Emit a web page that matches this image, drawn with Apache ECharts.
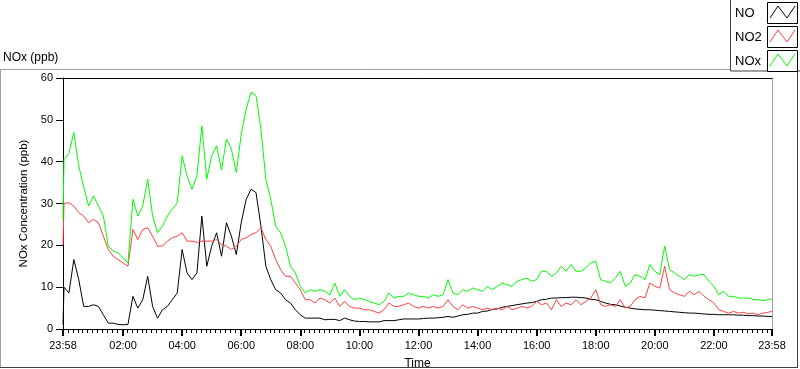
<!DOCTYPE html>
<html><head><meta charset="utf-8">
<script src="https://cdn.jsdelivr.net/npm/echarts@6/dist/echarts.min.js"></script>
<style>html,body{margin:0;padding:0;background:#fff}#c{width:800px;height:369px}</style>
</head><body><div id="c"></div>
<script>
// ---- data (minutes after midnight; first sample 23:58 previous day = -2) ----
const seriesNames = ['NO', 'NO2', 'NOx'];
const seriesColors = ['#000000', '#ff4040', '#00ff00'];
const firstTime = -2, lastTime = 1438, sampleStart = 0, sampleStep = 10, sampleEnd = 1430;

const noValues = [1,
  10, 8.6, 16.6, 11.8, 5.4, 5.4, 5.8, 5.4, 3.4, 1.4,
  1.4, 1.1, 1.0, 1.1, 7.8, 5.0, 7.0, 12.6, 5.4, 2.6,
  4.6, 5.4, 7.0, 8.6, 19, 13.4, 11.8, 13.4, 27, 15,
  19.8, 23, 17.4, 25.4, 22.2, 17.8, 25.4, 31, 33.4, 32.6,
  24.6, 15, 11.8, 9.4, 8.6, 7, 6.2, 4.6, 3.4, 2.6,
  2.6, 2.6, 2.6, 2.2, 2.3, 2.3, 2.0, 2.6, 2.2, 1.9,
  1.8, 1.8, 1.7, 1.7, 1.7, 2.0, 2.0, 2.0, 2.2, 2.4,
  2.4, 2.4, 2.4, 2.5, 2.6, 2.6, 2.7, 2.8, 3.0, 2.8,
  3.1, 3.4, 3.5, 3.8, 3.8, 4.2, 4.3, 4.7, 4.8, 5.2,
  5.4, 5.6, 5.8, 6.0, 6.2, 6.3, 6.6, 7.0, 7.1,
  7.4, 7.4, 7.5, 7.5, 7.6, 7.6, 7.5, 7.4, 7.1, 7.0,
  6.6, 6.2, 5.9, 5.8, 5.5, 5.2, 5.0, 4.8, 4.7, 4.6,
  4.6, 4.5, 4.4, 4.3, 4.2, 4.1, 4.0, 3.9, 3.8, 3.8,
  3.7, 3.6, 3.5, 3.5, 3.4, 3.4, 3.4, 3.4, 3.3, 3.3,
  3.2, 3.2, 3.1, 3.1, 3.0,
  3.0];

const no2Values = [20,
  30, 30.2, 29.4, 27.8, 27, 25.4, 26.2, 25.4, 22.2, 19,
  17.4, 16.6, 15.8, 15, 23.8, 21.4, 23.8, 24.2, 22.2, 19.8,
  19.8, 21, 21.8, 22.2, 23, 21, 21, 20.7, 21, 21,
  21, 21.4, 20.2, 19.8, 19, 19.8, 21.4, 21.8, 22.6, 23,
  24.2, 21.4, 19.8, 16.6, 14.2, 12.6, 12.6, 11, 9.4, 7,
  7, 6.2, 7.4, 7, 6.2, 7.4, 5.4, 6.6, 5.4, 5,
  5, 4.6, 4.6, 4.2, 3.8, 4.6, 6.2, 5.4, 5.4, 5.8,
  6.2, 5.4, 5, 5.4, 5, 5.4, 5, 5.4, 7, 5.4,
  4.6, 5.8, 5, 5.4, 5, 4.6, 5, 4.6, 5, 4.6,
  5.4, 4.6, 5, 5.4, 5, 5.4, 6.6, 5.8, 6.2,
  4.6, 7, 5.4, 6.2, 5.8, 7, 5.8, 6.6, 7.4, 9.4,
  5.8, 5.4, 5.8, 5.4, 7, 5, 5.4, 7, 7.8, 7.4,
  11, 10.2, 9.8, 15, 9.4, 8.6, 8.2, 7.8, 9, 8.2,
  9, 7.8, 7, 6.2, 4.6, 4.2, 3.8, 4.2, 3.8, 4,
  3.6, 3.8, 3.4, 3.8, 4,
  4.2];

const noxValues = [26,
  40.5, 42, 47, 39, 34, 29.4, 31.8, 29.4, 27, 19.8,
  18.6, 18.2, 17, 15.8, 31, 27, 29.4, 35.8, 27, 23,
  24.6, 27, 28.6, 30.2, 41.4, 36.6, 33.4, 36.6, 48.6, 35.8,
  41.4, 43.8, 38, 45.4, 43, 37.4, 46.6, 52.6, 56.6, 55.8,
  47.8, 35.8, 31, 24.6, 23, 19.8, 15, 13.4, 10.2, 8.6,
  9.4, 9, 9.4, 9, 8.2, 11, 7.8, 9.4, 7.8, 7,
  7.4, 7, 6.6, 6.2, 5.8, 6.6, 8.6, 7.4, 7.8, 7.8,
  8.6, 8.2, 7.8, 7.8, 7.4, 8.2, 7.8, 8.2, 11.8, 8.6,
  8.2, 9.4, 9, 9.8, 9.4, 9, 10.2, 9.4, 10.2, 11,
  10.6, 10.2, 11.4, 11.8, 12.2, 11.4, 11.8, 13.8, 13.8,
  12.6, 13.4, 15, 13.8, 15.4, 13.8, 13.8, 14.6, 15.8, 16.2,
  11.8, 11.4, 11, 12.2, 13.8, 10.2, 11, 13, 12.6, 11.8,
  15.4, 13.8, 13, 19.8, 14.2, 13.4, 12.6, 11.8, 13, 12.6,
  13, 13, 11.4, 10.2, 8.2, 9, 7.8, 7.8, 7.4, 7.4,
  7.4, 7.1, 7, 6.8, 7,
  7.2];

const majorTickValues = [-2, 120, 240, 360, 480, 600, 720, 840, 960, 1080, 1200, 1320, 1438];
const tickLabels = ['23:58', '02:00', '04:00', '06:00', '08:00', '10:00', '12:00',
                    '14:00', '16:00', '18:00', '20:00', '22:00', '23:58'];
const majorStep = 120, minorSplits = 12;

// ---- build ----
const times = [firstTime];
for (let t = sampleStart; t <= sampleEnd; t += sampleStep) times.push(t);
times.push(lastTime);
const allValues = [noValues, no2Values, noxValues];

const FONT = 'Liberation Sans';
const chart = echarts.init(document.getElementById('c'), null, { renderer: 'canvas' });

const legendGraphics = [
  { type: 'rect', shape: { x: 730.5, y: -1, width: 80, height: 72 }, style: { fill: '#fff', stroke: '#404040', lineWidth: 1 }, z: 10 }
];
seriesNames.forEach((n, i) => {
  const top = 2 + i * 24;
  legendGraphics.push({ type: 'text', x: 735, y: top + 11, style: { text: n, font: '13px ' + FONT, fill: '#000', textVerticalAlign: 'middle' }, z: 11 });
  legendGraphics.push({ type: 'rect', shape: { x: 767.5, y: top + 0.5, width: 30, height: 21 }, style: { fill: '#fff', stroke: '#000', lineWidth: 1 }, z: 11 });
  legendGraphics.push({ type: 'polyline', shape: { points: [[770, top + 16], [778, top + 4], [787, top + 16], [795, top + 4]] }, style: { stroke: seriesColors[i], lineWidth: 1, fill: null }, z: 12 });
});

const frameGraphics = [
  { type: 'line', shape: { x1: 0, y1: 69.5, x2: 731, y2: 69.5 }, style: { stroke: '#a0a0a0', lineWidth: 1 } },
  { type: 'line', shape: { x1: 0.5, y1: 69.5, x2: 0.5, y2: 368 }, style: { stroke: '#a0a0a0', lineWidth: 1 } },
  { type: 'line', shape: { x1: 0, y1: 367.5, x2: 798, y2: 367.5 }, style: { stroke: '#404040', lineWidth: 1 } },
  { type: 'line', shape: { x1: 797.5, y1: 71, x2: 797.5, y2: 368 }, style: { stroke: '#404040', lineWidth: 1 } },
  { type: 'text', x: 3, y: 58, style: { text: 'NOx (ppb)', font: '12px ' + FONT, fill: '#000', textVerticalAlign: 'middle' } }
];

const lineSeries = seriesNames.map((n, i) => ({
  name: n, type: 'line', xAxisIndex: 0, yAxisIndex: 0,
  data: times.map((t, k) => [t, allValues[i][k]]),
  showSymbol: false, symbol: 'none',
  lineStyle: { color: seriesColors[i], width: 1 },
  itemStyle: { color: seriesColors[i] },
  z: 2 + i
}));

const option = {
  animation: false,
  backgroundColor: '#fff',
  textStyle: { fontFamily: FONT },
  grid: { left: 63, right: 28, top: 78, bottom: 40, containLabel: false, outerBoundsMode: 'none' },
  graphic: frameGraphics.concat(legendGraphics),
  xAxis: [
    {
      type: 'value', min: firstTime, max: lastTime, interval: majorStep, position: 'bottom',
      name: 'Time', nameLocation: 'middle', nameGap: 29,
      nameTextStyle: { fontSize: 12, color: '#000', fontFamily: FONT },
      axisLine: { show: true, onZero: false, lineStyle: { color: '#000', width: 1 } },
      axisTick: { show: true, customValues: majorTickValues, length: 7, inside: false, lineStyle: { color: '#000', width: 2 } },
      minorTick: { show: true, splitNumber: minorSplits, length: 4, lineStyle: { color: '#000', width: 1 } },
      axisLabel: {
        show: true, customValues: majorTickValues, margin: 11, fontSize: 11, color: '#000', fontFamily: FONT,
        formatter: v => tickLabels[majorTickValues.indexOf(v)] || ''
      },
      splitLine: { show: false },
      minorSplitLine: { show: false }
    },
    {
      type: 'value', min: firstTime, max: lastTime, position: 'top',
      axisLine: { show: true, onZero: false, lineStyle: { color: '#000', width: 1 } },
      axisTick: { show: false }, axisLabel: { show: false }, splitLine: { show: false }
    }
  ],
  yAxis: [
    {
      type: 'value', min: 0, max: 60, interval: 10, position: 'left',
      name: 'NOx Concentration (ppb)', nameLocation: 'middle', nameGap: 31, nameRotate: 90,
      nameTextStyle: { fontSize: 11.5, color: '#000', fontFamily: FONT },
      axisLine: { show: true, onZero: false, lineStyle: { color: '#000', width: 1 } },
      axisTick: { show: true, length: 7, lineStyle: { color: '#000', width: 1 } },
      axisLabel: { margin: 10, fontSize: 11, color: '#000', fontFamily: FONT },
      splitLine: { show: false }
    },
    {
      type: 'value', min: 0, max: 60, interval: 10, position: 'right',
      axisLine: { show: true, onZero: false, lineStyle: { color: '#a0a0a0', width: 1 } },
      axisTick: { show: false }, axisLabel: { show: false }, splitLine: { show: false }
    }
  ],
  series: lineSeries
};
chart.setOption(option);
</script></body></html>
